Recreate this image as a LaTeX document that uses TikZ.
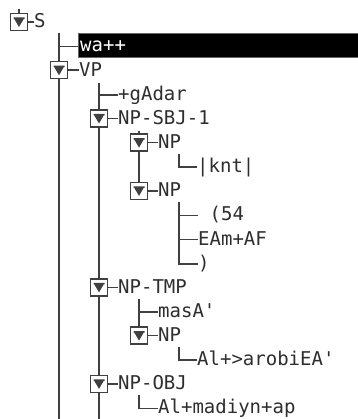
\documentclass[tikz,border=0pt]{standalone}
\usepackage{fontspec}
\newfontfamily\treemono{DejaVu Sans Mono}
\definecolor{ink}{gray}{0.18}
\definecolor{wire}{gray}{0.25}
\tikzset{
  wirel/.style={draw=wire, line width=1.6pt},
  lbl/.style={font=\treemono\fontsize{19}{19}\selectfont, text=ink, inner sep=0pt, anchor=base west},
  tbox/.style={draw=wire, line width=1.5pt, fill=white, minimum size=17pt, inner sep=0pt,
    path picture={
      \fill[wire] ([xshift=-5.5pt,yshift=4.5pt]path picture bounding box.center) -- ++(11pt,0pt) -- ++(0pt,-1.5pt) -- ++(-0.8pt,0pt)
        -- ([yshift=-5pt]path picture bounding box.center) -- ([xshift=-4.7pt,yshift=3pt]path picture bounding box.center) -- ++(-0.8pt,0pt) -- cycle;
    }},
  hlbar/.style={fill=black, draw=black!60, line width=0.4pt, inner sep=0pt, minimum width=281pt, minimum height=24pt, anchor=north west}
}
\begin{document}
\begin{tikzpicture}[x=1pt,y=-1pt]
\useasboundingbox[fill=white] (0,0) rectangle (357,419);

% ---- vertical wires
\coordinate (v0t) at (19,9);
\coordinate (v1t) at (59,33);   \coordinate (v1b) at (59,420);
\coordinate (v2t) at (99,83);   \coordinate (v2b) at (99,420);
\coordinate (v3at) at (139,131);
\coordinate (v4at) at (179,154);
\coordinate (v4bt) at (179,202);
\coordinate (v3bt) at (139,299);
\coordinate (v4ct) at (179,347);
\coordinate (v3ct) at (139,395);

% junction points for leaves
\coordinate (j1) at (59,46.6);
\coordinate (j3) at (99,94.9);
\coordinate (j6) at (179,167.25);
\coordinate (j8) at (179,215.5);
\coordinate (j9) at (179,239.6);
\coordinate (j10) at (179,263.75);
\coordinate (j12) at (139,312);
\coordinate (j14) at (179,360.25);
\coordinate (j16) at (139,408.5);

% ---- boxes
\node[tbox] (bS) at (19,22) {};
\node[tbox] (bVP) at (59,70.25) {};
\node[tbox] (bSBJ) at (99,118.5) {};
\node[tbox] (bNPa) at (139,142.6) {};
\node[tbox] (bNPb) at (139,190.9) {};
\node[tbox] (bTMP) at (99,287.4) {};
\node[tbox] (bNPc) at (139,335.6) {};
\node[tbox] (bOBJ) at (99,383.9) {};

% ---- highlight bar
\node[hlbar] (bar) at (78,33) {};

% ---- labels
\node[lbl] (tS) at (34,27.9) {S};
\node[lbl, text=white] (twa) at (80,52.0) {wa++};
\node[lbl] (tVP) at (79,76.15) {VP};
\node[lbl] (tg) at (118,100.3) {+gAdar};
\node[lbl] (tSBJ) at (118,124.4) {NP-SBJ-1};
\node[lbl] (tNPa) at (158,148.5) {NP};
\node[lbl] (tknt) at (197,172.65) {|knt|};
\node[lbl] (tNPb) at (158,196.8) {NP};
\node[lbl] (t54) at (198,220.9) {\ (54};
\node[lbl] (tEAm) at (198,245.0) {EAm+AF};
\node[lbl] (trp) at (198,269.15) {)};
\node[lbl] (tTMP) at (118,293.3) {NP-TMP};
\node[lbl] (tmas) at (158,317.4) {masA'};
\node[lbl] (tNPc) at (158,341.5) {NP};
\node[lbl] (tAl) at (197,365.65) {Al+>arobiEA'};
\node[lbl] (tOBJ) at (118,389.8) {NP-OBJ};
\node[lbl] (tmad) at (158,413.9) {Al+madiyn+ap};

% ---- wires (drawn behind boxes)
\begin{scope}[on background layer/.try]
\end{scope}
\draw[wirel] (v0t) -- (bS.north);
\draw[wirel] (v1t) -- (bVP.north);
\draw[wirel] (bVP.south) -- (v1b);
\draw[wirel] (v2t) -- (bSBJ.north);
\draw[wirel] (bSBJ.south) -- (bTMP.north);
\draw[wirel] (bTMP.south) -- (bOBJ.north);
\draw[wirel] (bOBJ.south) -- (v2b);
\draw[wirel] (v3at) -- (bNPa.north);
\draw[wirel] (bNPa.south) -- (bNPb.north);
\draw[wirel] (v4at) -- (j6) -- (j6 -| tknt.west);
\draw[wirel] (v4bt) -- (j10) -- (j10 -| trp.west);
\draw[wirel] (j8) -- (j8 -| t54.west);
\draw[wirel] (j9) -- (j9 -| tEAm.west);
\draw[wirel] (v3bt) -- (bNPc.north);
\draw[wirel] (j12) -- (j12 -| tmas.west);
\draw[wirel] (v4ct) -- (j14) -- (j14 -| tAl.west);
\draw[wirel] (v3ct) -- (j16) -- (j16 -| tmad.west);
\draw[wirel] (j1) -- (j1 -| bar.west);
\draw[wirel] (j3) -- (j3 -| tg.west);
% dashes from boxes to labels
\draw[wirel] (bS.east) -- (bS.east -| tS.west);
\draw[wirel] (bVP.east) -- (bVP.east -| tVP.west);
\draw[wirel] (bSBJ.east) -- (bSBJ.east -| tSBJ.west);
\draw[wirel] (bNPa.east) -- (bNPa.east -| tNPa.west);
\draw[wirel] (bNPb.east) -- (bNPb.east -| tNPb.west);
\draw[wirel] (bTMP.east) -- (bTMP.east -| tTMP.west);
\draw[wirel] (bNPc.east) -- (bNPc.east -| tNPc.west);
\draw[wirel] (bOBJ.east) -- (bOBJ.east -| tOBJ.west);
\end{tikzpicture}
\end{document}
